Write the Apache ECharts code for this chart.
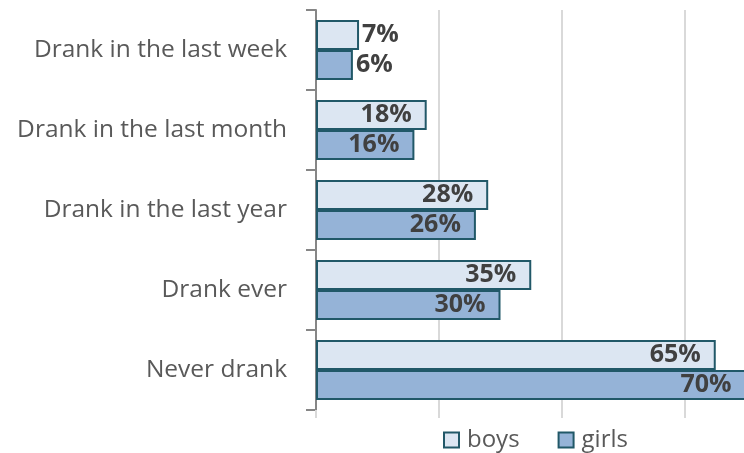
<!DOCTYPE html>
<html><head><meta charset="utf-8">
<script src="https://cdn.jsdelivr.net/npm/echarts@6/dist/echarts.min.js"></script>
<style>html,body{margin:0;padding:0;background:#fff;overflow:hidden;width:744px;height:453px}#c{width:808px;height:453px}</style>
</head><body><div id="c"></div>
<script>
const categories = ['Drank in the last week','Drank in the last month','Drank in the last year','Drank ever','Never drank'];
const boys = [7, 18, 28, 35, 65];
const girls = [6, 16, 26, 30, 70];
const seriesNames = ['boys','girls'];
const outsideLabelCategories = ['Drank in the last week'];

const FONT = 'Open Sans';
const border = '#215868';
function mkData(vals){
  return vals.map((v,i)=>({
    value: v,
    label: outsideLabelCategories.includes(categories[i]) ? {position:'right', distance:3} : {}
  }));
}
const chart = echarts.init(document.getElementById('c'));
chart.setOption({
  animation:false,
  textStyle:{fontFamily:FONT},
  grid:{left:316, right:0, top:10, height:400, containLabel:false},
  legend:{
    data:seriesNames, left:443, top:428, padding:0, icon:'rect', itemWidth:15, itemHeight:15, itemGap:38,
    textStyle:{fontFamily:FONT, fontSize:24, color:'#595959', padding:[0,0,0,3]}
  },
  xAxis:{
    type:'value', min:0, max:80, interval:20,
    axisLine:{show:false}, axisLabel:{show:false},
    axisTick:{show:true, length:8, lineStyle:{color:'#d9d9d9', width:2}},
    splitLine:{show:true, lineStyle:{color:'#d9d9d9', width:2}}
  },
  yAxis:{
    type:'category', data:categories, inverse:true,
    axisLine:{show:true, lineStyle:{color:'#868686', width:2}},
    axisTick:{show:true, length:10, lineStyle:{color:'#868686', width:2}},
    axisLabel:{fontFamily:FONT, fontSize:24.5, color:'#595959', margin:29}
  },
  series:[
    {name:seriesNames[0], type:'bar', data:mkData(boys), barGap:'0%', barCategoryGap:'25%',
     itemStyle:{color:'#dce6f2', borderColor:border, borderWidth:2},
     label:{show:true, position:'insideRight', distance:15, formatter:'{c}%', fontFamily:FONT, fontWeight:'bold', fontSize:25, color:'#404040'}},
    {name:seriesNames[1], type:'bar', data:mkData(girls), barGap:'0%', barCategoryGap:'25%',
     itemStyle:{color:'#95b3d7', borderColor:border, borderWidth:2},
     label:{show:true, position:'insideRight', distance:15, formatter:'{c}%', fontFamily:FONT, fontWeight:'bold', fontSize:25, color:'#404040'}}
  ]
});
</script></body></html>
